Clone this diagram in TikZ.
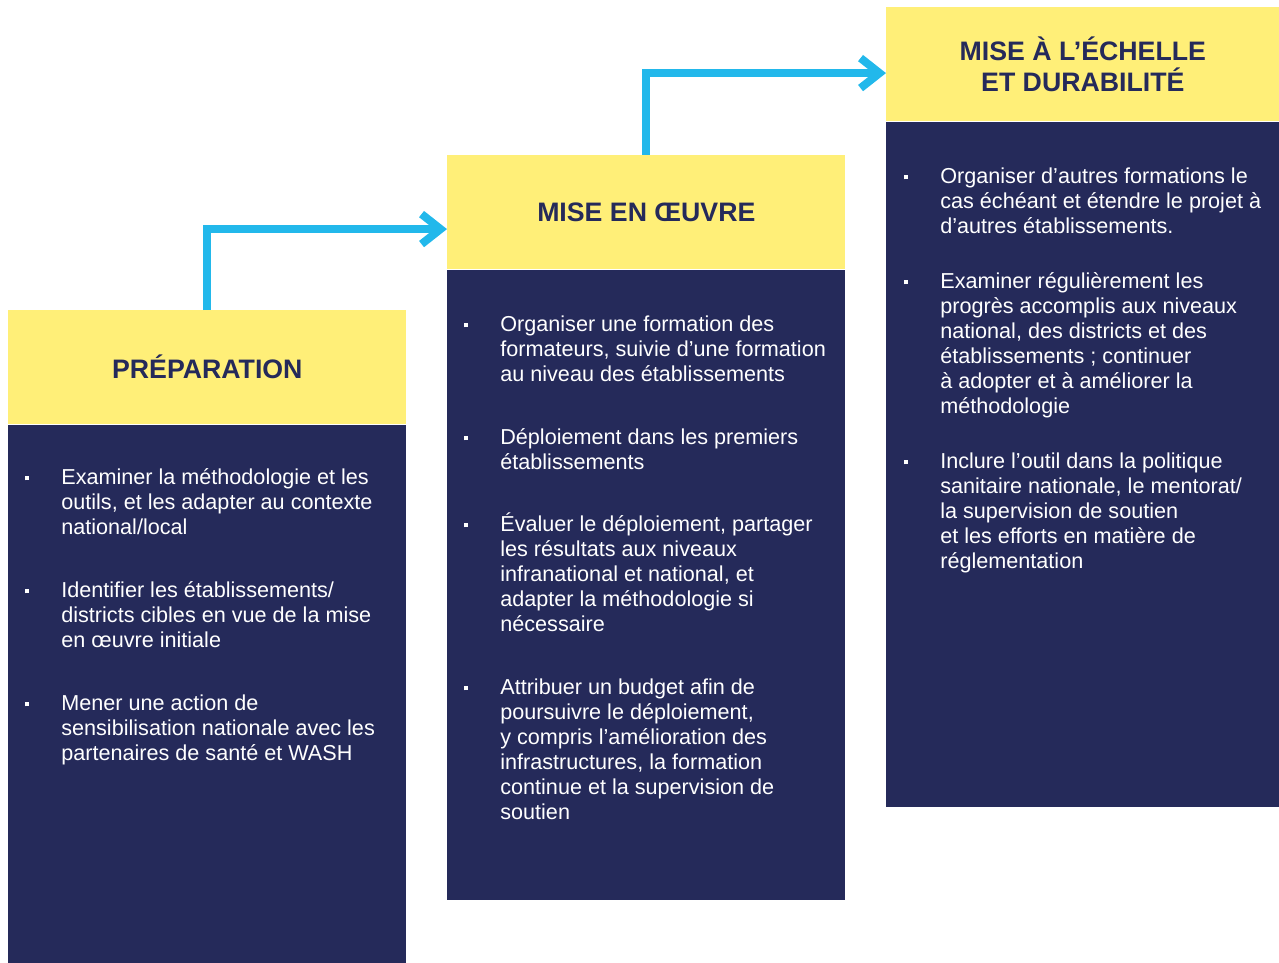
\documentclass[tikz,border=0pt]{standalone}
\usepackage{fontspec}
\setmainfont{Liberation Sans}
\usetikzlibrary{arrows.meta,positioning}

\definecolor{stepyellow}{HTML}{FFEF78}
\definecolor{stepnavy}{HTML}{252A5A}
\definecolor{flowblue}{HTML}{22B8EB}

\newcommand{\blt}{\llap{\raisebox{0.08cm}{\rule{0.08cm}{0.08cm}}\hspace{0.64cm}}\rule{0pt}{12pt}}

\tikzset{
  head/.style={fill=stepyellow, text=stepnavy, font=\fontsize{15.2}{17.8}\selectfont\bfseries,
    minimum height=2.27cm, inner sep=0pt, align=center},
  body/.style={fill=stepnavy, inner sep=0pt},
  item/.style={text=white, font=\fontsize{12.3}{14.23}\selectfont, align=left,
    inner sep=0pt, anchor=north west, yshift=12pt},
  flow/.style={flowblue, line width=0.16cm, line join=miter,
    -{Straight Barb[length=0.38cm,width=0.6cm]}}
}

\begin{document}
\begin{tikzpicture}[x=0.02cm,y=-0.02cm]
    \useasboundingbox (0,0) rectangle (1279,963);

    \node[head, minimum width=7.96cm, anchor=north west] (prepHead) at (8,310) {PRÉPARATION};
    \node[body, minimum width=7.96cm, minimum height=10.78cm, below=0pt of prepHead] (prepBody) {};
    \node[item] (prep1) at (61,484) {\blt Examiner la méthodologie et les\\outils, et les adapter au contexte\\national/local};
    \node[item] (prep2) at (61,597) {\blt Identifier les établissements/\\districts cibles en vue de la mise\\en œuvre initiale};
    \node[item] (prep3) at (61,710) {\blt Mener une action de\\sensibilisation nationale avec les\\partenaires de santé et WASH};

    \node[head, minimum width=7.96cm, anchor=north west] (mainHead) at (447,155) {MISE EN ŒUVRE};
    \node[body, minimum width=7.96cm, minimum height=12.62cm, below=0pt of mainHead] (mainBody) {};
    \node[item] (main1) at (500,331) {\blt Organiser une formation des\\formateurs, suivie d’une formation\\au niveau des établissements};
    \node[item] (main2) at (500,444) {\blt Déploiement dans les premiers\\établissements};
    \node[item] (main3) at (500,531) {\blt Évaluer le déploiement, partager\\les résultats aux niveaux\\infranational et national, et\\adapter la méthodologie si\\nécessaire};
    \node[item] (main4) at (500,694) {\blt Attribuer un budget afin de\\poursuivre le déploiement,\\y compris l’amélioration des\\infrastructures, la formation\\continue et la supervision de\\soutien};

    \node[head, minimum width=7.86cm, anchor=north west] (scaleHead) at (886,7) {MISE À L’ÉCHELLE\\ET DURABILITÉ};
    \node[body, minimum width=7.86cm, minimum height=13.72cm, below=0pt of scaleHead] (scaleBody) {};
    \node[item] (scale1) at (940,183) {\blt Organiser d’autres formations le\\cas échéant et étendre le projet à\\d’autres établissements.};
    \node[item] (scale2) at (940,288) {\blt Examiner régulièrement les\\progrès accomplis aux niveaux\\national, des districts et des\\établissements ; continuer\\à adopter et à améliorer la\\méthodologie};
    \node[item] (scale3) at (940,468) {\blt Inclure l’outil dans la politique\\sanitaire nationale, le mentorat/\\la supervision de soutien\\et les efforts en matière de\\réglementation};

    \draw[flow] (prepHead.north) |- ([yshift=-0.34cm]mainHead.west);
    \draw[flow] (mainHead.north) |- ([yshift=-0.18cm]scaleHead.west);
\end{tikzpicture}
\end{document}
